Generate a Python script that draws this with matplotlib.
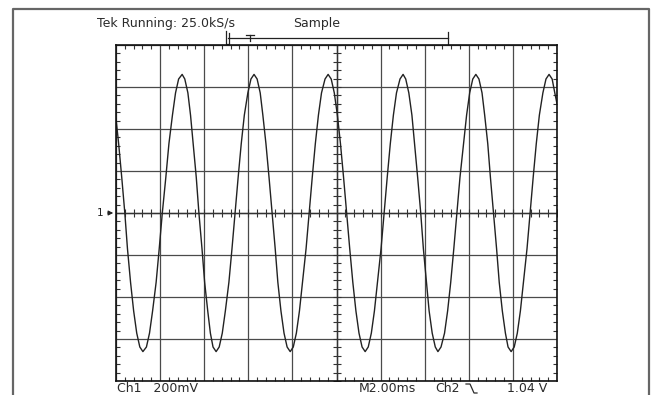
import matplotlib.pyplot as plt
import numpy as np

# trace: time in divisions (2.00 ms/div), level in divisions (200 mV/div)
trace_t = [0.00, 0.06, 0.13, 0.20, 0.26, 0.33, 0.40, 0.47, 0.54, 0.61,
           0.69, 0.76, 0.83, 0.91, 0.98, 1.05, 1.13, 1.20, 1.28, 1.35, 1.42, 1.50,
           1.56, 1.63, 1.69, 1.75, 1.82, 1.88, 1.95, 2.01, 2.08, 2.14, 2.20, 2.27,
           2.34, 2.41, 2.48, 2.56, 2.63, 2.70, 2.77, 2.84, 2.91, 2.99, 3.06, 3.13,
           3.20, 3.27, 3.33, 3.40, 3.47, 3.54, 3.61, 3.67, 3.74, 3.81, 3.88, 3.95,
           4.02, 4.09, 4.16, 4.23, 4.31, 4.38, 4.45, 4.52, 4.59, 4.66, 4.74, 4.81,
           4.88, 4.95, 5.02, 5.09, 5.16, 5.23, 5.30, 5.37, 5.44, 5.51, 5.58, 5.65,
           5.72, 5.79, 5.86, 5.93, 6.01, 6.08, 6.15, 6.22, 6.29, 6.36, 6.44, 6.51,
           6.57, 6.64, 6.71, 6.77, 6.84, 6.91, 6.97, 7.04, 7.10, 7.17, 7.24, 7.30,
           7.37, 7.45, 7.52, 7.59, 7.66, 7.73, 7.80, 7.88, 7.95, 8.02, 8.09, 8.16,
           8.23, 8.30, 8.36, 8.43, 8.49, 8.56, 8.63, 8.69, 8.76, 8.83, 8.89, 8.96,
           9.03, 9.10, 9.17, 9.24, 9.32, 9.39, 9.46, 9.53, 9.60, 9.68, 9.75, 9.82,
           9.89, 9.95, 10.00]
trace_v = [2.25, 1.65, 0.85, 0.00, -0.85, -1.65, -2.33, -2.86, -3.19, -3.30,
           -3.19, -2.86, -2.33, -1.65, -0.85, 0.00, 0.85, 1.65, 2.33, 2.86, 3.19, 3.30,
           3.19, 2.86, 2.33, 1.65, 0.85, 0.00, -0.85, -1.65, -2.33, -2.86, -3.19, -3.30,
           -3.19, -2.86, -2.33, -1.65, -0.85, 0.00, 0.85, 1.65, 2.33, 2.86, 3.19, 3.30,
           3.19, 2.86, 2.33, 1.65, 0.85, 0.00, -0.85, -1.65, -2.33, -2.86, -3.19, -3.30,
           -3.19, -2.86, -2.33, -1.65, -0.85, 0.00, 0.85, 1.65, 2.33, 2.86, 3.19, 3.30,
           3.19, 2.86, 2.33, 1.65, 0.85, 0.00, -0.85, -1.65, -2.33, -2.86, -3.19, -3.30,
           -3.19, -2.86, -2.33, -1.65, -0.85, 0.00, 0.85, 1.65, 2.33, 2.86, 3.19, 3.30,
           3.19, 2.86, 2.33, 1.65, 0.85, 0.00, -0.85, -1.65, -2.33, -2.86, -3.19, -3.30,
           -3.19, -2.86, -2.33, -1.65, -0.85, 0.00, 0.85, 1.65, 2.33, 2.86, 3.19, 3.30,
           3.19, 2.86, 2.33, 1.65, 0.85, 0.00, -0.85, -1.65, -2.33, -2.86, -3.19, -3.30,
           -3.19, -2.86, -2.33, -1.65, -0.85, 0.00, 0.85, 1.65, 2.33, 2.86, 3.19, 3.30,
           3.19, 2.86, 2.60]

top_left_text = "Tek Running: 25.0kS/s"
top_mid_text = "Sample"
ch1_text = "Ch1   200mV"
time_text = "M2.00ms"
ch2_text = "Ch2"
level_text = "1.04 V"

W, H = 654, 395
fig = plt.figure(figsize=(W / 100, H / 100), dpi=100)

# overlay in pixel coords for the screen furniture
ov = fig.add_axes([0, 0, 1, 1])
ov.set_xlim(0, W)
ov.set_ylim(H, 0)
ov.axis('off')

ov.plot([13, 13, 649, 649], [H, 9, 9, H], color='#666666', lw=1.6)

txt = dict(fontsize=9, color='#2a2a2a', va='center', family='DejaVu Sans')
ov.text(97, 23, top_left_text, ha='left', **txt)
ov.text(293, 23, top_mid_text, ha='left', **txt)
ov.text(117, 388, ch1_text, ha='left', **txt)
ov.text(359, 388, time_text, ha='left', **txt)
ov.text(435, 388, ch2_text, ha='left', **txt)
ov.text(547, 388, level_text, ha='right', **txt)
# falling-edge trigger glyph
ov.plot([466, 470, 474, 477], [384, 384, 393, 393], color='#2a2a2a', lw=0.9)

# record-position bar
ov.plot([228, 448], [38, 38], color='#222222', lw=0.9)
ov.plot([226, 226, 229], [31, 44, 44], color='#222222', lw=0.9)
ov.plot([229, 229], [33, 43], color='#222222', lw=0.9)
ov.plot([448, 448], [32, 45], color='#222222', lw=0.9)
ov.plot([246, 254], [35, 35], color='#222222', lw=0.9)
ov.plot([250, 250], [35, 41], color='#222222', lw=0.9)

# ground marker "1 ->"
ov.text(103, 213, "1", ha='right', fontsize=7.5, color='#222222', va='center')
ov.annotate("", xy=(116, 213), xytext=(105, 213),
            arrowprops=dict(arrowstyle='-|>', color='#222222', lw=0.8,
                            mutation_scale=7))

# scope graticule
ax = fig.add_axes([116 / W, (H - 381) / H, 441 / W, 336 / H])
ax.set_xlim(0, 10)
ax.set_ylim(-4, 4)
ax.set_xticks(np.arange(0, 11, 1))
ax.set_yticks(np.arange(-4, 5, 1))
ax.set_xticks(np.arange(0, 10.01, 0.2), minor=True)
ax.set_yticks(np.arange(-4, 4.01, 0.2), minor=True)
ax.tick_params(which='both', direction='in', top=True, right=True,
               labelbottom=False, labelleft=False)
ax.tick_params(which='major', length=0)
ax.tick_params(which='minor', length=3, width=0.8, color='#333333')
ax.grid(True, which='major', color='#4a4a4a', lw=0.9)
for s in ax.spines.values():
    s.set_color('#111111')
    s.set_linewidth(1.2)

# centre axes with their own tick marks
ax.axhline(0, color='#333333', lw=1.0)
ax.axvline(5, color='#333333', lw=1.0)
ax.plot(np.arange(0, 10.01, 0.2), np.zeros(51), ls='none', marker='|',
        ms=6, mew=0.8, color='#333333')
ax.plot(np.full(41, 5.0), np.arange(-4, 4.01, 0.2), ls='none', marker='_',
        ms=6, mew=0.8, color='#333333')

ax.plot(trace_t, trace_v, color='#222222', lw=1.0, clip_on=True)

fig.savefig('out.png', dpi=100)
